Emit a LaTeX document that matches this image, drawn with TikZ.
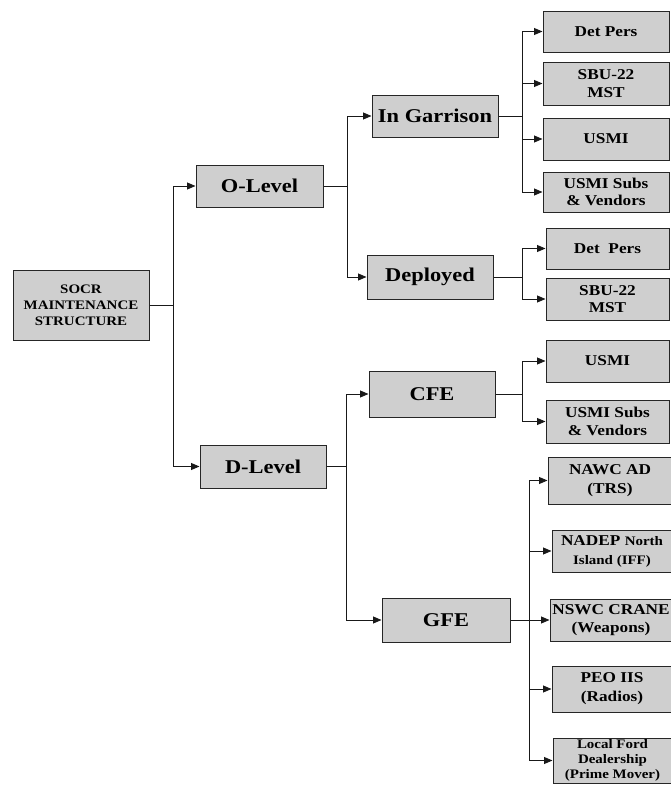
\documentclass[tikz,border=0pt]{standalone}
\usepackage{fontspec}
\setmainfont{Liberation Serif}[FakeStretch=1.15]
\usetikzlibrary{arrows.meta,shadows}
\begin{document}
\begin{tikzpicture}[x=1pt,y=-1pt,
  box/.style={draw=black!85, line width=1pt, fill=black!19, inner sep=0pt, align=center,
    drop shadow={shadow xshift=1.2pt, shadow yshift=-1.2pt, fill=black!60, opacity=0.8}},
  lv/.style={box, font=\fontsize{19.5}{22}\selectfont\bfseries},
  leaf/.style={box, font=\fontsize{15}{17.5}\selectfont\bfseries},
  ln/.style={line width=0.9pt, black!90},
  arr/.style={ln, -{Triangle[length=8.5pt,width=7pt]}}]
\useasboundingbox (0,0) rectangle (670,785);

% root
\node[box, font=\fontsize{13}{16}\selectfont\bfseries, minimum width=136pt, minimum height=70pt] (socr) at (81,305) {SOCR\\MAINTENANCE\\STRUCTURE};

% level 1
\node[lv, minimum width=127pt, minimum height=42pt] (olevel) at (259.5,186) {O-Level};
\node[lv, minimum width=126pt, minimum height=43pt] (dlevel) at (263,466.5) {D-Level};

% level 2
\node[lv, minimum width=126pt, minimum height=42pt] (garrison) at (435,116) {In Garrison};
\node[lv, minimum width=126pt, minimum height=44pt] (deployed) at (430,277) {Deployed};
\node[lv, minimum width=126pt, minimum height=46pt] (cfe) at (432,394) {CFE};
\node[lv, minimum width=128pt, minimum height=44pt] (gfe) at (446,620) {GFE};

% leaves: In Garrison
\node[leaf, minimum width=126pt, minimum height=41pt] (dp1) at (606,31.5) {Det Pers};
\node[leaf, minimum width=126pt, minimum height=43pt] (sbu1) at (606,83.5) {SBU-22\\MST};
\node[leaf, minimum width=126pt, minimum height=42pt] (usmi1) at (606,139) {USMI};
\node[leaf, minimum width=126pt, minimum height=40pt] (subs1) at (606,192) {USMI Subs\\\& Vendors};

% leaves: Deployed
\node[leaf, minimum width=123pt, minimum height=41pt] (dp2) at (607.5,248.5) {Det~~Pers};
\node[leaf, minimum width=123pt, minimum height=42pt] (sbu2) at (607.5,299) {SBU-22\\MST};

% leaves: CFE
\node[leaf, minimum width=123pt, minimum height=42pt] (usmi3) at (607.5,361) {USMI};
\node[leaf, minimum width=123pt, minimum height=43pt] (subs3) at (607.5,421.5) {USMI Subs\\\& Vendors};

% leaves: GFE
\node[leaf, minimum width=124pt, minimum height=47pt, font=\fontsize{15}{19}\selectfont\bfseries] (nawc) at (610,480.5) {NAWC AD\\(TRS)};
\node[leaf, minimum width=120pt, minimum height=42pt, font=\fontsize{15}{19}\selectfont\bfseries] (nadep) at (612,551) {NADEP {\fontsize{13}{19}\selectfont North}\\{\fontsize{13}{19}\selectfont Island (IFF)}};
\node[leaf, minimum width=122pt, minimum height=42pt, font=\fontsize{15}{18}\selectfont\bfseries] (nswc) at (611,620) {NSWC CRANE\\(Weapons)};
\node[leaf, minimum width=120pt, minimum height=46pt, font=\fontsize{15}{19}\selectfont\bfseries] (peo) at (612,689) {PEO IIS\\(Radios)};
\node[leaf, minimum width=119pt, minimum height=45pt, font=\fontsize{13}{15}\selectfont\bfseries] (ford) at (612.5,760.5) {Local Ford\\Dealership\\(Prime Mover)};

% junction points
\coordinate (t1) at (173,305);
\coordinate (t2) at (347,186);
\coordinate (t3) at (346,466.5);
\coordinate (t4) at (522,116);
\coordinate (t5) at (522,277);
\coordinate (t6) at (522,394);
\coordinate (t7) at (529,620);

% connectors
\draw[ln] (socr.east) -- (t1);
\draw[arr] (t1) |- (olevel.west);
\draw[arr] (t1) |- (dlevel.west);

\draw[ln] (olevel.east) -- (t2);
\draw[arr] (t2) |- (garrison.west);
\draw[arr] (t2) |- (deployed.west);

\draw[ln] (dlevel.east) -- (t3);
\draw[arr] (t3) |- (cfe.west);
\draw[arr] (t3) |- (gfe.west);

\draw[ln] (garrison.east) -- (t4);
\draw[arr] (t4) |- (dp1.west);
\draw[arr] (t4) |- (sbu1.west);
\draw[arr] (t4) |- (usmi1.west);
\draw[arr] (t4) |- (subs1.west);

\draw[ln] (deployed.east) -- (t5);
\draw[arr] (t5) |- (dp2.west);
\draw[arr] (t5) |- (sbu2.west);

\draw[ln] (cfe.east) -- (t6);
\draw[arr] (t6) |- (usmi3.west);
\draw[arr] (t6) |- (subs3.west);

\draw[ln] (gfe.east) -- (t7);
\draw[arr] (t7) |- (nawc.west);
\draw[arr] (t7) |- (nadep.west);
\draw[arr] (t7) -- (nswc.west);
\draw[arr] (t7) |- (peo.west);
\draw[arr] (t7) |- (ford.west);
\end{tikzpicture}
\end{document}
